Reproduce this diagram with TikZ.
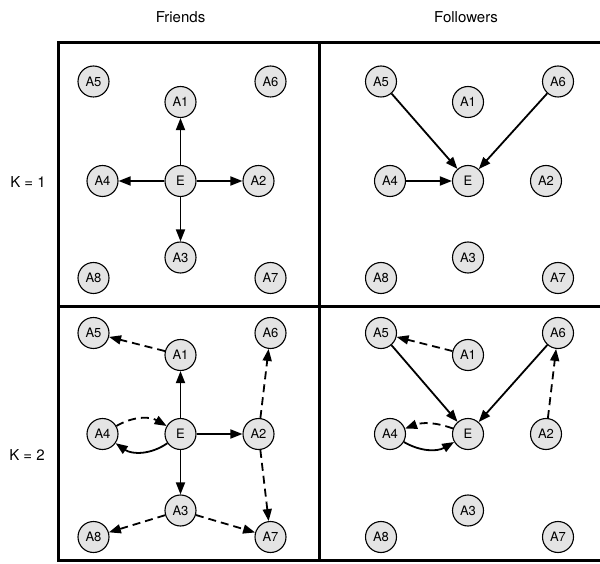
\documentclass[tikz,border=0pt]{standalone}
\usepackage{fontspec}
\setmainfont{TeX Gyre Heros}
\usepackage{tikz}
\usetikzlibrary{arrows.meta}
\definecolor{nodegray}{HTML}{E4E4E4}
\tikzstyle{agent} = [circle, minimum size=31pt, inner sep=0pt, draw=black, line width=1.1pt, fill=nodegray, font=\fontsize{13}{15}\selectfont]
\tikzstyle{heading} = [font=\fontsize{15}{18}\selectfont]
\tikzstyle{frame} = [line width=3pt]
\tikzstyle{arrow} = [-{Triangle[length=12pt,width=9pt]}, line width=1.8pt]
\tikzstyle{darrow} = [arrow, dash pattern=on 8pt off 5pt]

\begin{document}
\begin{tikzpicture}[x=1pt, y=1pt]
	\useasboundingbox (0,0) rectangle (600,563);
	\draw [frame] (602,520) -- (58,520) -- (58,3) -- (602,3);
	\draw [frame] (319,520) -- (319,3);
	\draw [frame] (58,256) -- (602,256);

	\node (friends) [heading] at (180.5,546) {Friends};
	\node (followers) [heading] at (466,546) {Followers};
	\node (k1) [heading] at (28,381) {K = 1};
	\node (k2) [heading] at (27,108) {K = 2};

	% a: K=1 friends, b: K=1 followers, c: K=2 friends, d: K=2 followers
	\foreach \p/\cx/\cy/\up/\dn in {a/180.5/382/99.5/97, b/468/382/99.5/97, c/180.5/129/101/103, d/468/129/101/103} {
		\node (\p E) [agent] at (\cx,\cy) {E};
		\node (\p A1) [agent, above of=\p E, node distance=79pt] {A1};
		\node (\p A2) [agent, right of=\p E, node distance=78pt] {A2};
		\node (\p A3) [agent, below of=\p E, node distance=76.5pt] {A3};
		\node (\p A4) [agent, left of=\p E, node distance=78pt] {A4};
		\node (\p A5) [agent, above of=\p E, node distance=\up pt, xshift=-87pt] {A5};
		\node (\p A6) [agent, above of=\p E, node distance=\up pt, xshift=90pt] {A6};
		\node (\p A7) [agent, below of=\p E, node distance=\dn pt, xshift=90pt] {A7};
		\node (\p A8) [agent, below of=\p E, node distance=\dn pt, xshift=-87pt] {A8};
	}

	\draw [arrow] (aE) -- (aA1);
	\draw [arrow] (aE) -- (aA2);
	\draw [arrow] (aE) -- (aA3);
	\draw [arrow] (aE) -- (aA4);

	\draw [arrow] (bA5) -- (bE);
	\draw [arrow] (bA6) -- (bE);
	\draw [arrow] (bA4) -- (bE);

	\draw [arrow] (cE) -- (cA1);
	\draw [arrow] (cE) -- (cA2);
	\draw [arrow] (cE) -- (cA3);
	\draw [arrow] (cE) to[bend left=35] (cA4);
	\draw [darrow] (cA4) to[bend left=30] (cE);
	\draw [darrow] (cA1) -- (cA5);
	\draw [darrow] (cA2) -- (cA6);
	\draw [darrow] (cA2) -- (cA7);
	\draw [darrow] (cA3) -- (cA8);
	\draw [darrow] (cA3) -- (cA7);

	\draw [arrow] (dA5) -- (dE);
	\draw [arrow] (dA6) -- (dE);
	\draw [arrow] (dA4) to[bend right=30] (dE);
	\draw [darrow] (dE) to[bend right=20] (dA4);
	\draw [darrow] (dA1) -- (dA5);
	\draw [darrow] (dA2) -- (dA6);
\end{tikzpicture}
\end{document}
